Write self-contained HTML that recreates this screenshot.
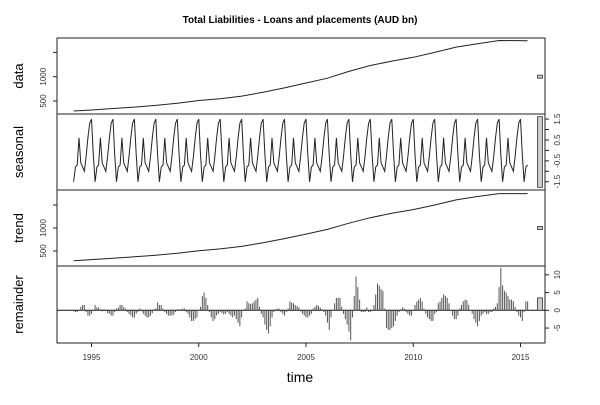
<!DOCTYPE html>
<html><head><meta charset="utf-8"><style>
body{margin:0;background:#fff}
svg{font-family:"Liberation Sans",Arial,sans-serif}
</style></head><body>
<svg id="c" width="600" height="400" xmlns="http://www.w3.org/2000/svg">
<rect width="600" height="400" fill="#fff"/>
<text x="300" y="23" text-anchor="middle" font-size="10" font-weight="bold">Total Liabilities - Loans and placements (AUD bn)</text>
<text x="300" y="382" text-anchor="middle" font-size="14">time</text>
</svg>
<script>
const dataYears=[1994.17,1995,1996,1997,1998,1999,2000,2001,2002,2003,2004,2005,2006,2007,2008,2009,2010,2011,2012,2013,2014,2015.33];
const dataValues=[294,315,345,375,410,455,510,545,600,680,770,870,970,1110,1230,1320,1400,1500,1610,1680,1745,1740];
const trendValues=[290,312,342,373,408,452,507,545,600,680,770,868,970,1105,1225,1320,1400,1500,1610,1685,1748,1748];
const seasonalPattern=[1.5,-0.2,-1.5,-0.8,-0.7,0.6,-0.6,-0.8,-1.0,-0.3,0.6,1.3];
const startYear=1994, startMonth=2, nMonths=255;
const remainder=[
-0.3,-0.5,-0.5,0,1,1.5,1.5,-0.5,-1.5,-1.5,
-1,0,1.5,0.8,0.8,0.3,-0.3,0.3,-0.2,-0.8,-1,-1.5,
-1.5,-0.5,0.5,0.8,1.5,1.5,1,0.5,-0.5,-1,-1.5,-2,
-2,-1,-0.5,0.5,-0.3,-1,-1.5,-2,-2,-1.5,-0.8,0.3,
0.5,2.2,1.5,1.5,0.5,-0.5,-1,-1.5,-1.5,-1.5,-1.2,-0.5,
0.3,0.2,0.3,0.5,0.5,-0.5,-1,-2,-3,-3,-2.5,-2,
0,1,4,5,3.5,1.5,-0.5,-2,-3,-2.5,-1.5,-1,
-0.5,-0.8,-1.2,-1,-0.5,-1,-1.5,-2,-1.5,-2.5,-3.5,-4.5,
-2,0,0.5,2.5,2,1.8,2,2.5,3,3.5,1,-1,
-2,-4,-5.5,-6.5,-4.5,-2,-0.5,0.3,0.5,0.5,-0.5,-1,
-1.5,-0.5,0.5,2.5,2.2,2,1.5,1.2,0.8,-0.3,-1,-1.5,
-2,-2,-1.5,-1,0.5,1,1.5,1.2,0.8,0.3,-0.5,-1.5,
-3.5,-5.5,-2,0,2,3.5,3.5,3.5,1,-1,-2.5,-4,
-6,-8.5,-2,4,9.5,6.5,3,-0.5,-0.5,-0.5,0.8,-0.5,
-0.5,0,1.5,4.5,7.5,7,6,5.5,0.5,-5,-5.5,-5.5,
-5,-4.5,-3,-1.5,-0.5,0.3,0.8,0.5,-0.5,-1,-1.5,-1.5,
0,1.5,2.5,3,3.5,2.5,0.5,-1,-2,-2.5,-3,-3,
-1,-0.5,2,2.5,3.5,4.5,4,3.5,2,0,-1.5,-2.5,
-2.5,-1.5,0.5,1.5,2.5,3,2.8,1.5,0,-1,-2.5,-3.5,
-4.5,-3,-1.5,-1,-0.5,-1,-1,-0.5,-0.5,0.5,1,2,
6.5,12,7,5.5,5,4,3,3,2.5,1,-0.5,-1.5,
-2,-3,-0.5,2.5,2.5];
const xTicks=[1995,2000,2005,2010,2015];
const dataTicks=[500,1000,1500];
const dataTickLabels=["500","1000",""];
const seasTicks=[-1.5,-1,-0.5,0,0.5,1,1.5];
const seasTickLabels=["-1.5","","-0.5","","0.5","","1.5"];
const remTicks=[-5,0,5,10];
const remTickLabels=["-5","0","5","10"];

const svg=document.getElementById('c');
const NS='http://www.w3.org/2000/svg';
const L=57,R=545;
const x=t=>91.5+(t-1995)*21.45;
const yData=v=>101-(v-500)*24.3/500;
const ySeas=v=>150.4-v*20.9;
const yTrend=v=>251-(v-500)*23/500;
const yRem=v=>310.3-v*3.55;
function el(tag,attrs,parent){const e=document.createElementNS(NS,tag);for(const k in attrs)e.setAttribute(k,attrs[k]);(parent||svg).appendChild(e);return e;}
function g(name){const e=el('g',{});return e;}

const panels=[["data",38,114],["seasonal",114,190],["trend",190,266],["remainder",266,343]];
panels.forEach(p=>{
  const gr=g(p[0]+'-panel');
  const r=el('rect',{x:L,y:p[1],width:R-L,height:p[2]-p[1],fill:'none',stroke:'#222','stroke-width':1},gr);
  
  
  const t=el('text',{x:0,y:0,'font-size':13,'text-anchor':'middle',transform:`translate(23,${(p[1]+p[2])/2}) rotate(-90)`},gr);
  t.textContent=p[0];
  
  
});

function axisV(ticks,labels,yf,side,name){
  const gr=g(name);
  ticks.forEach((v,i)=>{
    const yy=yf(v);
    if(side==='left'){el('line',{x1:L,x2:L-4,y1:yy,y2:yy,stroke:'#222'},gr);}
    else{el('line',{x1:R,x2:R+4,y1:yy,y2:yy,stroke:'#222'},gr);}
    if(labels[i]){const tx=side==='left'?46:560;
      const t=el('text',{x:0,y:0,'font-size':8,fill:'#333','text-anchor':'middle',transform:`translate(${tx},${yy}) rotate(-90)`},gr);
      t.textContent=labels[i];
      
      }
  });
}
axisV(dataTicks,dataTickLabels,yData,'left','data-y-axis');
axisV(seasTicks,seasTickLabels,ySeas,'right','seasonal-y-axis');
axisV(dataTicks,dataTickLabels,yTrend,'left','trend-y-axis');
axisV(remTicks,remTickLabels,yRem,'right','remainder-y-axis');

const xa=g('x-axis');
xTicks.forEach(t=>{
  el('line',{x1:x(t),x2:x(t),y1:343,y2:347,stroke:'#222'},xa);
  const tx=el('text',{x:x(t),y:360,'font-size':8,fill:'#333','text-anchor':'middle'},xa);
  tx.textContent=t;
  
  
});

// data line
let pts=dataYears.map((t,i)=>x(t).toFixed(1)+','+yData(dataValues[i]).toFixed(1)).join(' ');
const dl=el('polyline',{points:pts,fill:'none',stroke:'#222','stroke-width':1});


// trend line
pts=dataYears.map((t,i)=>x(t).toFixed(1)+','+yTrend(trendValues[i]).toFixed(1)).join(' ');
const tl=el('polyline',{points:pts,fill:'none',stroke:'#222','stroke-width':1});


// seasonal
const sp=[];
for(let i=0;i<nMonths;i++){const m=(startMonth+i)%12;const t=startYear+(startMonth+i)/12;sp.push(x(t).toFixed(1)+','+ySeas(seasonalPattern[m]).toFixed(1));}
const sl=el('polyline',{points:sp.join(' '),fill:'none',stroke:'#222','stroke-width':1});


// remainder
const rg=g('remainder-bars');
el('line',{x1:L,x2:R,y1:yRem(0),y2:yRem(0),stroke:'#111'},rg);
remainder.forEach((v,i)=>{
  const t=startYear+(startMonth+i)/12;
  const b=el('line',{x1:x(t),x2:x(t),y1:yRem(0),y2:yRem(v),stroke:'#555','stroke-width':1},rg);
  
  
});
// range bars
function rb(y1,y2,name){const r=el('rect',{x:537.5,y:Math.min(y1,y2),width:5,height:Math.max(1.5,Math.abs(y2-y1)),fill:'#ccc',stroke:'#333','stroke-width':0.8});
}
rb(yData(1000)-1.5,yData(1000)+1.5,'data-range-bar');
rb(116.7,187.3,'seasonal-range-bar');
rb(yTrend(1000)-1.5,yTrend(1000)+1.5,'trend-range-bar');
rb(yRem(3.5),yRem(0),'remainder-range-bar');
</script>
</body></html>
